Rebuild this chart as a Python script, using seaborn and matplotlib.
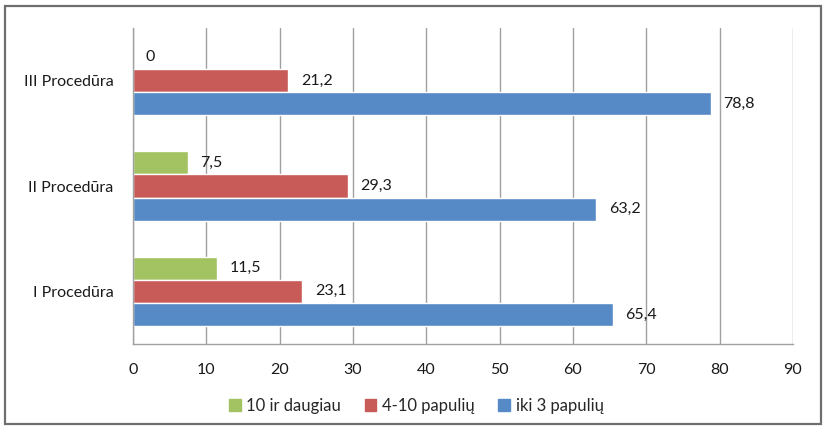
import matplotlib
matplotlib.use("Agg")
import matplotlib.pyplot as plt
from matplotlib.patches import Rectangle
from matplotlib.ticker import FixedLocator, NullFormatter
import seaborn as sns
import pandas as pd

categories = ["III Procedūra", "II Procedūra", "I Procedūra"]
series = ["10 ir daugiau", "4-10 papulių", "iki 3 papulių"]
values_10_plus = [0, 7.5, 11.5]
values_4_10 = [21.2, 29.3, 23.1]
values_upto_3 = [78.8, 63.2, 65.4]
x_ticks = [0, 10, 20, 30, 40, 50, 60, 70, 80, 90]

colors = ["#a3c261", "#c85a57", "#568ac6"]
line_gray = "#a0a0a0"

rows = []
for name, vals in zip(series, [values_10_plus, values_4_10, values_upto_3]):
    for cat, v in zip(categories, vals):
        rows.append({"cat": cat, "series": name, "value": v})
df = pd.DataFrame(rows)

sns.set_style("white")
plt.rcParams["font.family"] = ["Lato", "DejaVu Sans"]

fig = plt.figure(figsize=(8.26, 4.29), dpi=100)
ax = fig.add_axes([133 / 826, 1 - 344 / 429, 660 / 826, 316 / 429])

sns.barplot(data=df, y="cat", x="value", hue="series", order=categories,
            hue_order=series, palette=colors, orient="h", width=0.66,
            saturation=1, ax=ax, legend=True)

for cont in ax.containers:
    ax.bar_label(cont, labels=[f"{v:.1f}".replace(".", ",") if v != 0 else "0"
                               for v in cont.datavalues],
                 padding=9, fontsize=11.5, color="#1a1a1a")

ax.set_xlim(0, 90)
ax.set_ylim(2.5, -0.5)
ax.set_xticks(x_ticks)
ax.set_xticklabels([str(t) for t in x_ticks], fontsize=11.5, color="#1a1a1a")
ax.xaxis.grid(True, color=line_gray, linewidth=1.0)
ax.set_axisbelow(True)
ax.tick_params(axis="x", direction="out", length=6, width=1.0, color=line_gray, pad=8)
ax.tick_params(axis="y", which="major", length=0, pad=14, labelsize=11.5, labelcolor="#1a1a1a")
ax.yaxis.set_minor_locator(FixedLocator([-0.5, 0.5, 1.5, 2.5]))
ax.yaxis.set_minor_formatter(NullFormatter())
ax.tick_params(axis="y", which="minor", direction="out", length=6, width=1.0, color=line_gray)
ax.set_xlabel("")
ax.set_ylabel("")
for side in ["top", "right"]:
    ax.spines[side].set_visible(False)
for side in ["left", "bottom"]:
    ax.spines[side].set_color(line_gray)
    ax.spines[side].set_linewidth(1.0)

ax.legend_.remove()
handles = [Rectangle((0, 0), 1, 1, color=c) for c in colors]
fig.legend(handles, series, loc="center", bbox_to_anchor=(0.504, 1 - 406 / 429),
           ncol=3, frameon=False, fontsize=12, handlelength=0.7, handleheight=0.7,
           handletextpad=0.35, columnspacing=1.4)

fig.add_artist(Rectangle((5 / 826, 5 / 429), 816 / 826, 418 / 429,
                         transform=fig.transFigure, fill=False,
                         edgecolor="#6e6e6e", linewidth=1.6))

fig.savefig("out.png", dpi=100)
